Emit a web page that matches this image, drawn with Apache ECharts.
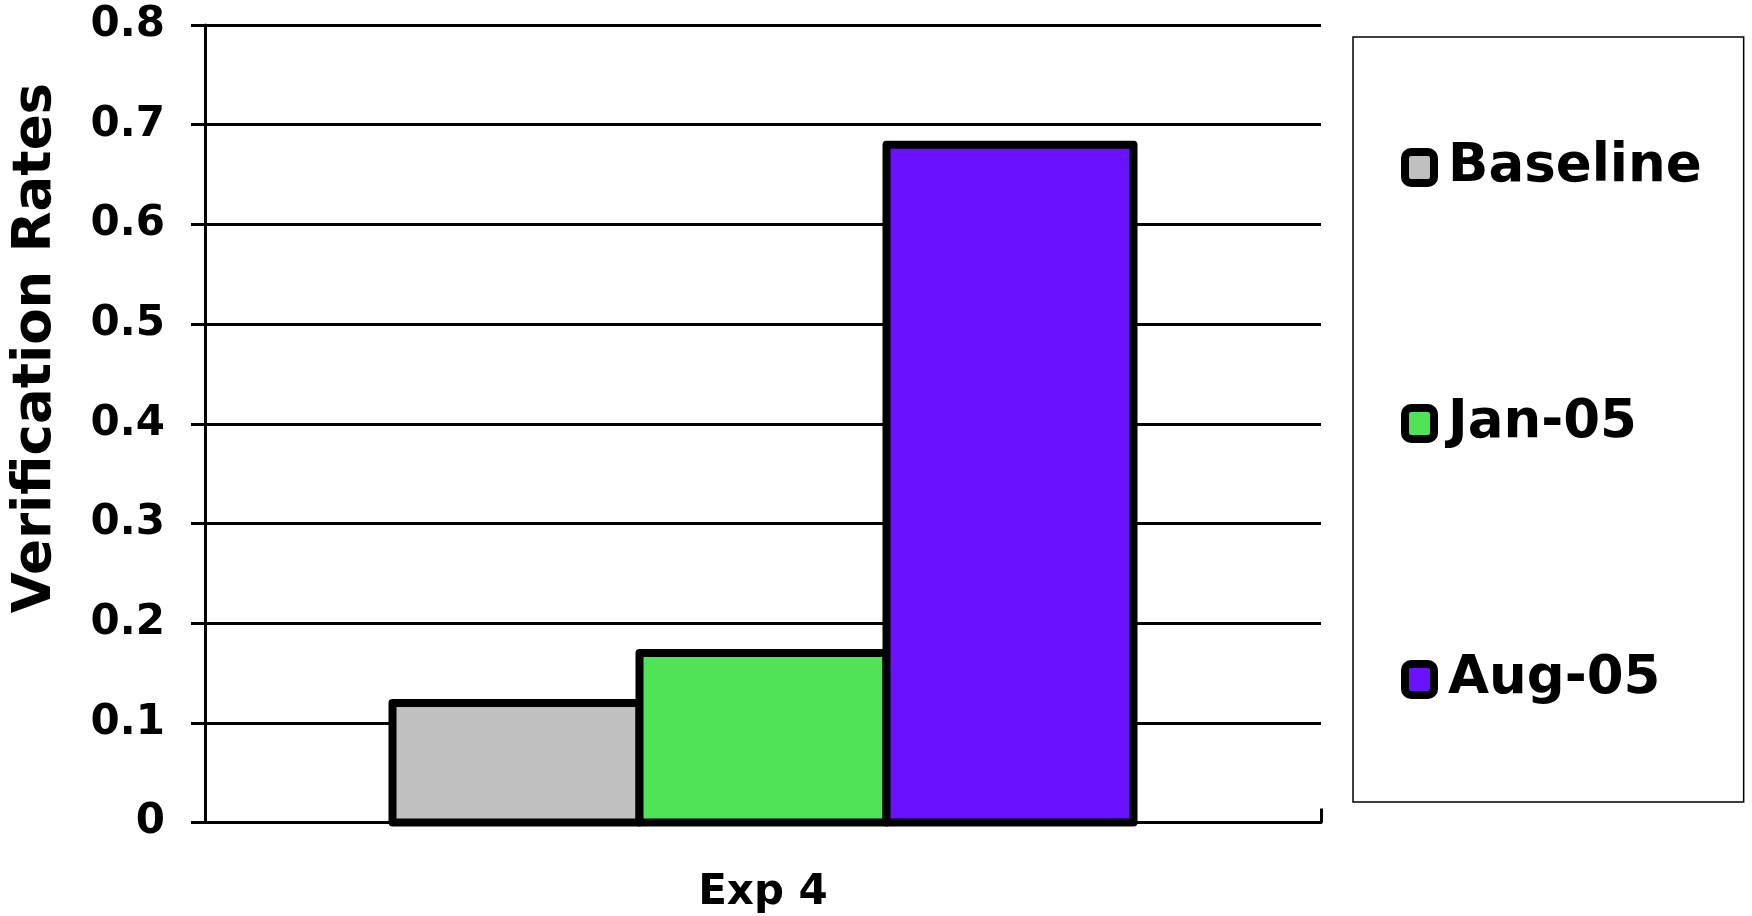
<!DOCTYPE html>
<html>
<head>
<meta charset="utf-8">
<script src="https://cdn.jsdelivr.net/npm/echarts@6/dist/echarts.min.js"></script>
<style>
html,body{margin:0;padding:0;background:#fff}
#chart{width:1752px;height:916px}
</style>
</head>
<body>
<div id="chart"></div>
<script>
// data
const categories = ['Exp 4']
const seriesNames = ['Baseline', 'Jan-05', 'Aug-05']
const baseline = [0.12]
const jan05 = [0.17]
const aug05 = [0.68]
const seriesColors = ['#c0c0c0', '#50e356', '#6a12ff']

const font = 'DejaVu Sans'
const values = [baseline, jan05, aug05]
const barW = 247

// custom bars so the thick border sits centred on the value (bar series insets it)
function makeRender(i) {
    return function (params, api) {
        let base = api.coord([api.value(0), 0])
        let top = api.coord([api.value(0), api.value(1)])
        let x = base[0] + (i - 1) * barW - barW / 2
        return {
            type: 'rect',
            shape: {x: x, y: top[1], width: barW, height: base[1] - top[1]},
            style: {fill: seriesColors[i], stroke: '#000', lineWidth: 8, lineJoin: 'round'}
        }
    }
}

let series = []
for (let i = 0; i < seriesNames.length; i++) {
    series.push({
        name: seriesNames[i],
        type: 'custom',
        data: values[i].map((v, j) => [j, v]),
        encode: {x: 0, y: 1},
        itemStyle: {color: seriesColors[i]},
        renderItem: makeRender(i)
    })
}

// legend swatches as rich-text boxes (legend icon border gets thinned)
let rich = {t: {fontFamily: font, fontWeight: 'bold', fontSize: 53, color: '#000', padding: [0, 0, 0, 18]}}
for (let i = 0; i < seriesNames.length; i++) {
    rich['b' + i] = {width: 21, height: 23, backgroundColor: seriesColors[i], borderColor: '#000', borderWidth: 8, borderRadius: 2}
}

let chart = echarts.init(document.getElementById('chart'))
chart.setOption({
    animation: false,
    backgroundColor: '#fff',
    grid: {left: 205, right: 431, top: 25, bottom: 93.5},
    legend: {
        orient: 'vertical',
        left: 1353,
        top: 37,
        data: seriesNames,
        icon: 'none',
        itemWidth: 0,
        itemHeight: 26,
        itemGap: 203,
        itemTextGap: 0,
        padding: [104, 42, 96, 48],
        borderColor: '#000',
        borderWidth: 1.5,
        formatter: function (name) {
            return '{b' + seriesNames.indexOf(name) + '|}{t|' + name + '}'
        },
        textStyle: {fontFamily: font, fontWeight: 'bold', fontSize: 53, color: '#000', rich: rich}
    },
    graphic: [{
        type: 'text',
        x: 36,
        y: 348,
        rotation: Math.PI / 2,
        style: {
            text: 'Verification Rates',
            font: 'bold 53px "DejaVu Sans"',
            fill: '#000',
            align: 'center',
            verticalAlign: 'middle',
            textAlign: 'center',
            textVerticalAlign: 'middle'
        }
    }],
    xAxis: {
        type: 'category',
        data: categories,
        axisLine: {lineStyle: {color: '#000', width: 3}},
        axisTick: {show: true, inside: true, length: 14, lineStyle: {color: '#000', width: 3}},
        axisLabel: {margin: 50, color: '#000', fontFamily: font, fontWeight: 'bold', fontSize: 42}
    },
    yAxis: {
        type: 'value',
        min: 0,
        max: 0.8,
        interval: 0.1,
        axisLine: {show: true, lineStyle: {color: '#000', width: 3}},
        axisTick: {show: true, length: 14, lineStyle: {color: '#000', width: 3}},
        splitLine: {show: true, lineStyle: {color: '#000', width: 3}},
        axisLabel: {margin: 40, color: '#000', fontFamily: font, fontWeight: 'bold', fontSize: 42}
    },
    series: series
})
</script>
</body>
</html>
